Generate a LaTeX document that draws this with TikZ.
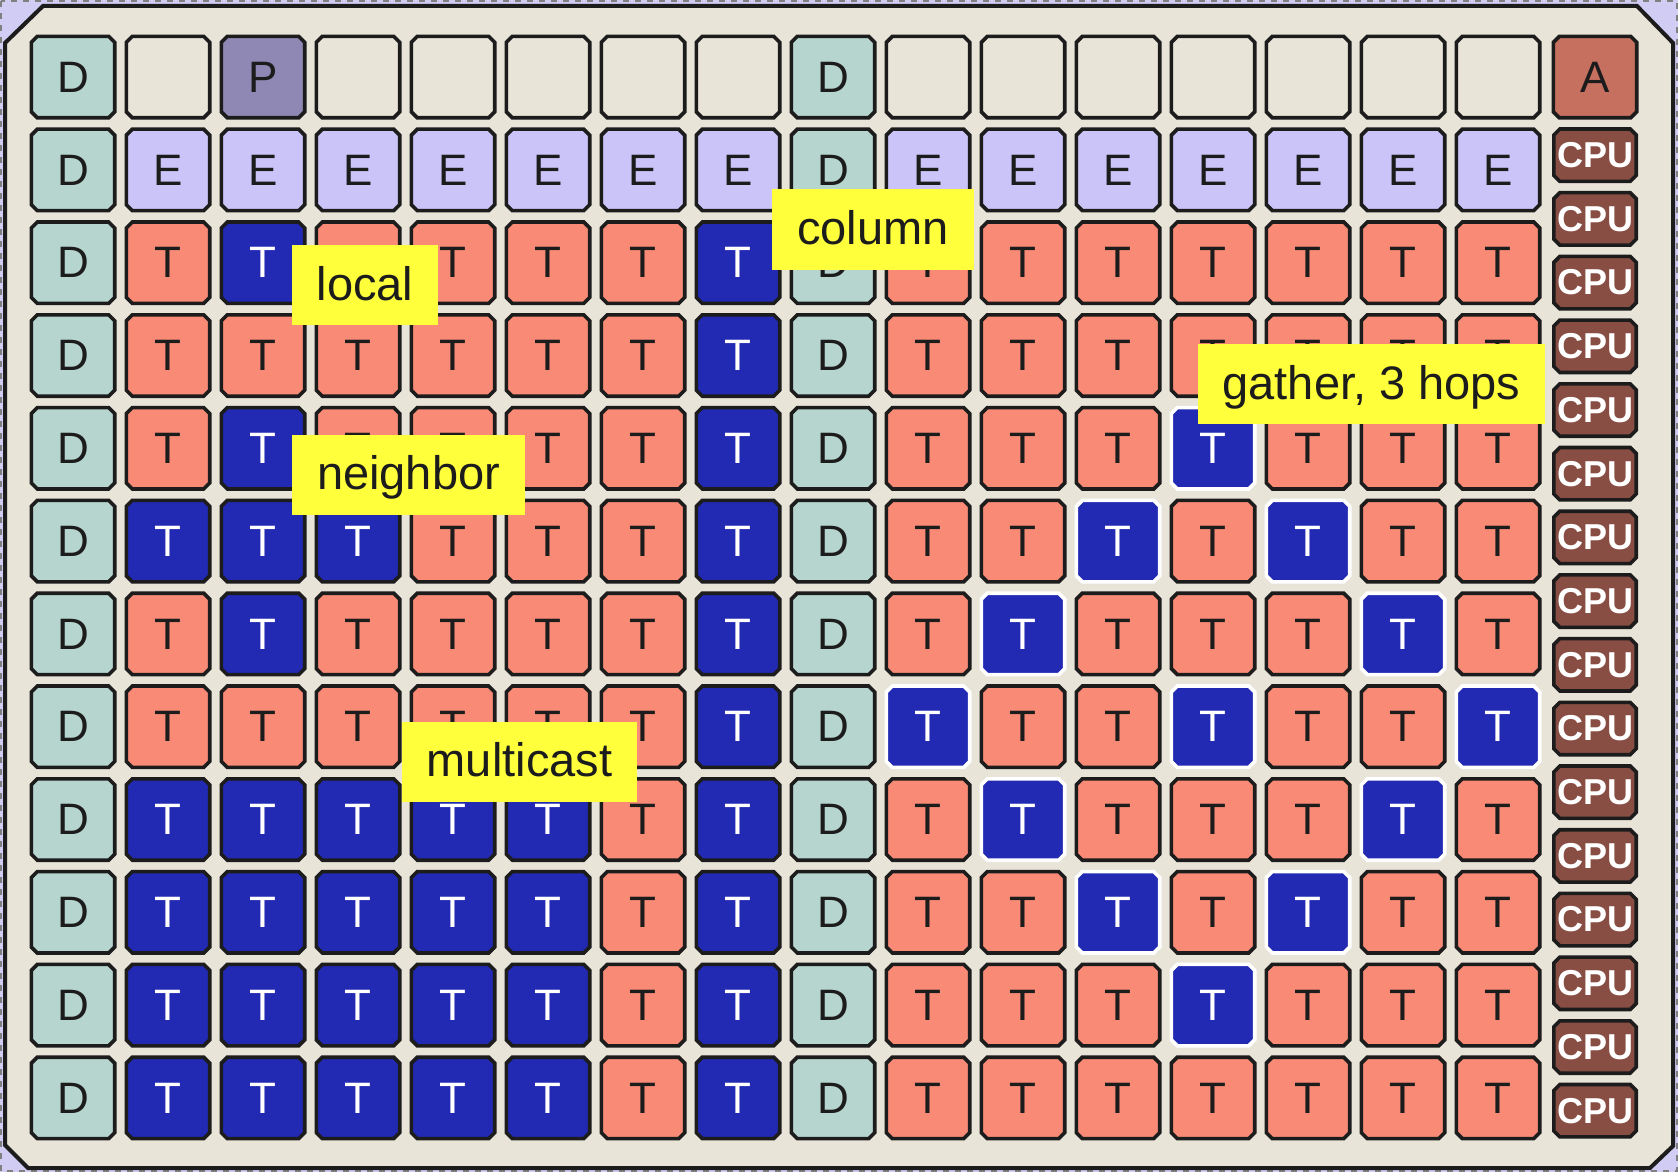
\documentclass[tikz,border=0pt]{standalone}
\usepackage{fontspec}
\setmainfont{Liberation Sans}
\usepackage{tikz}

\definecolor{outside}{RGB}{208,204,243}
\definecolor{board}{RGB}{232,228,216}
\definecolor{ink}{RGB}{28,28,28}
\definecolor{dramc}{RGB}{182,213,207}
\definecolor{ethc}{RGB}{203,196,248}
\definecolor{pciec}{RGB}{143,135,180}
\definecolor{tilec}{RGB}{248,138,118}
\definecolor{hotc}{RGB}{34,41,178}
\definecolor{arcc}{RGB}{198,112,96}
\definecolor{cpuc}{RGB}{136,78,68}
\definecolor{notec}{RGB}{255,255,60}

\pgfdeclarelayer{boardlayer}
\pgfdeclarelayer{cells}
\pgfsetlayers{boardlayer,cells,main}

% outline of a cell with cut corners
\newcommand\cutcorners[1]{([xshift=3pt]#1.north west) -- ([xshift=-3pt]#1.north east)
	-- ([yshift=-3pt]#1.north east) -- ([yshift=3pt]#1.south east)
	-- ([xshift=-3pt]#1.south east) -- ([xshift=3pt]#1.south west)
	-- ([yshift=3pt]#1.south west) -- ([yshift=-3pt]#1.north west) -- cycle}

\tikzset{
	cell/.style={rectangle, inner sep=0pt, outer sep=0pt, minimum width=41.7pt,
		minimum height=40.7pt, text=ink, font=\fontsize{22}{22}\selectfont},
	plate/.style={draw=ink, line width=1.8pt},
	blank/.style={cell, node contents={}},
	blankplate/.style={plate, fill=board},
	dram/.style={cell, node contents=D},
	dramplate/.style={plate, fill=dramc},
	eth/.style={cell, node contents=E},
	ethplate/.style={plate, fill=ethc},
	pcie/.style={cell, node contents=P},
	pcieplate/.style={plate, fill=pciec},
	tile/.style={cell, node contents=T},
	tileplate/.style={plate, fill=tilec},
	hot/.style={cell, text=white, node contents=T},
	hotplate/.style={plate, fill=hotc},
	ring/.style={hot},
	ringplate/.style={plate, fill=hotc, draw=white},
	arc/.style={cell, node contents=A},
	arcplate/.style={plate, fill=arcc},
	cpu/.style={cell, minimum width=41.2pt, minimum height=26.2pt, text=white,
		font=\fontsize{18}{18}\selectfont\bfseries},
	cpuplate/.style={plate, fill=cpuc},
	note/.style={fill=notec, text=ink, inner xsep=12.5pt, inner ysep=0pt, minimum height=40pt,
		text height=15pt, text depth=0pt, font=\fontsize{23.5}{23.5}\selectfont}
}

\begin{document}
\begin{tikzpicture}[x=0.5pt, y=-0.5pt]
	\useasboundingbox (0,0) rectangle (1678,1172);
	\begin{pgfonlayer}{boardlayer}
		\fill[outside] (0,0) rectangle (1678,1172);
		\draw[gray, dashed, line width=0.8pt] (1,1) rectangle (1677,1171);
		\draw[ink, line width=2pt, fill=board] (43,6) -- (1637,6) -- (1673,43) -- (1673,1146)
			-- (1650,1168) -- (28,1168) -- (5,1145) -- (5,43) -- cycle;
	\end{pgfonlayer}

	\foreach [count=\r from 0] \row in {
		{dram,blank,pcie,blank,blank,blank,blank,blank,dram,blank,blank,blank,blank,blank,blank,blank},
		{dram,eth,eth,eth,eth,eth,eth,eth,dram,eth,eth,eth,eth,eth,eth,eth},
		{dram,tile,hot,tile,tile,tile,tile,hot,dram,tile,tile,tile,tile,tile,tile,tile},
		{dram,tile,tile,tile,tile,tile,tile,hot,dram,tile,tile,tile,tile,tile,tile,tile},
		{dram,tile,hot,tile,tile,tile,tile,hot,dram,tile,tile,tile,ring,tile,tile,tile},
		{dram,hot,hot,hot,tile,tile,tile,hot,dram,tile,tile,ring,tile,ring,tile,tile},
		{dram,tile,hot,tile,tile,tile,tile,hot,dram,tile,ring,tile,tile,tile,ring,tile},
		{dram,tile,tile,tile,tile,tile,tile,hot,dram,ring,tile,tile,ring,tile,tile,ring},
		{dram,hot,hot,hot,hot,hot,tile,hot,dram,tile,ring,tile,tile,tile,ring,tile},
		{dram,hot,hot,hot,hot,hot,tile,hot,dram,tile,tile,ring,tile,ring,tile,tile},
		{dram,hot,hot,hot,hot,hot,tile,hot,dram,tile,tile,tile,ring,tile,tile,tile},
		{dram,hot,hot,hot,hot,hot,tile,hot,dram,tile,tile,tile,tile,tile,tile,tile}}{
		\foreach [count=\c from 0] \k in \row {
			\node (c-\r-\c) at ({73+95*\c},{77.1+92.8*\r}) [\k];
			\begin{pgfonlayer}{cells}
				\draw[\k plate] \cutcorners{c-\r-\c};
			\end{pgfonlayer}
		}
	}

	\node (arc) at (1595,77.1) [arc];
	\begin{pgfonlayer}{cells}
		\draw[arcplate] \cutcorners{arc};
	\end{pgfonlayer}
	\foreach \i in {0,...,15}{
		\node[cpu] (cpu-\i) at (1595,{155.2+63.7*\i}) {CPU};
		\begin{pgfonlayer}{cells}
			\draw[cpuplate] \cutcorners{cpu-\i};
		\end{pgfonlayer}
	}

	\node[note] (local) at (365,285) {local};
	\node[note] (column) at (873,229.5) {column};
	\node[note] (neighbor) at (408.5,474.5) {neighbor};
	\node[note] (multicast) at (519.5,761.5) {multicast};
	\node[note] (gather) at (1371.5,384) {gather, 3 hops};
\end{tikzpicture}
\end{document}
